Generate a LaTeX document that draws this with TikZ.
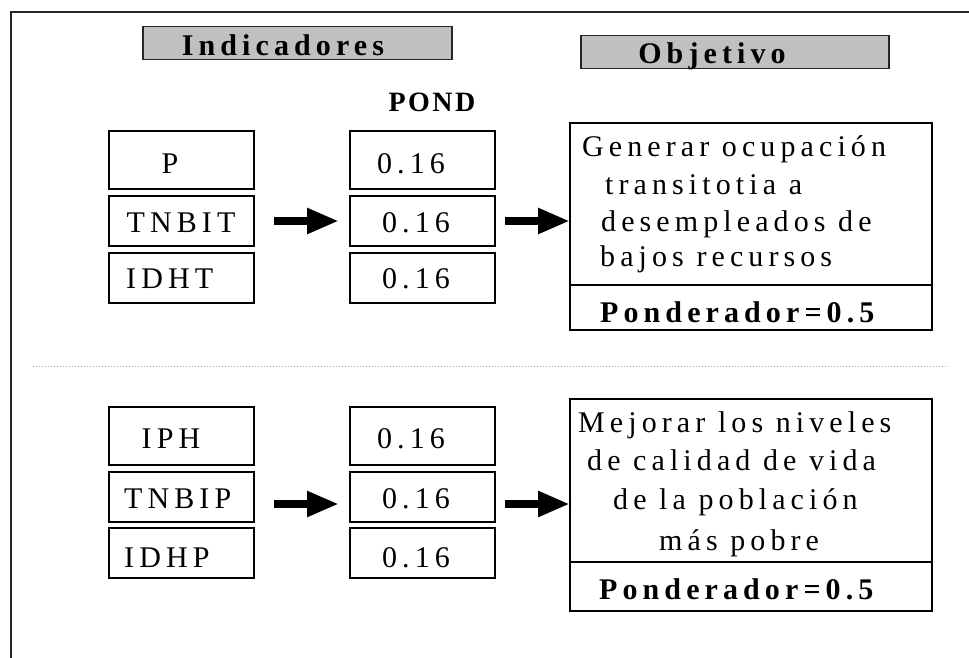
\documentclass[tikz,border=0pt]{standalone}
\usepackage{fontspec}
\setmainfont{Liberation Serif}
\newfontfamily\lsp[LetterSpace=17]{Liberation Serif}
\newfontfamily\lspn[LetterSpace=9]{Liberation Serif}
\usetikzlibrary{arrows.meta}
\definecolor{hdrgray}{HTML}{C0C0C0}
\begin{document}
\begin{tikzpicture}[x=1pt,y=-1pt,
  box/.style={draw=black, line width=1.3pt, inner sep=0pt, outer sep=0pt, minimum width=145pt},
  objbox/.style={draw=black, line width=1.3pt, inner sep=0pt, outer sep=0pt, minimum width=362pt},
  hdr/.style={draw=black!85, fill=hdrgray, line width=1.8pt, inner sep=0pt, minimum height=33pt},
  txt/.style={anchor=base, inner sep=0pt, font=\lsp\fontsize{30}{32}\selectfont},
  txtw/.style={txt, anchor=base west},
  bld/.style={font=\lsp\bfseries\fontsize{30}{32}\selectfont},
  hfont/.style={font=\lsp\bfseries\fontsize{30}{32}\selectfont},
  pfont/.style={font=\lspn\bfseries\fontsize{28}{30}\selectfont},
  fat/.style={line width=8pt, -{Triangle[length=32pt,width=24pt]}},
  divider/.style={line width=2.5pt},
]
\useasboundingbox (0,0) rectangle (969,658);
% frame
\draw[line width=2pt, black!85] (11,658) -- (11,12) -- (969,12);

% headers
\node[hdr, minimum width=309pt] (hind) at (297.5,43) {};
\node[txt, hfont] (tind) at (283,56) {Indicadores};
\node[hdr, minimum width=308pt] (hobj) at (735,52) {};
\node[txt, hfont] (tobj) at (712,64) {Objetivo};
\node[txt, pfont] (pond) at (432,112) {POND};

% top group, column 1
\node[box, minimum height=58pt] (a1) at (181.5,160) {};
\node[box, minimum height=50pt] (a2) at (181.5,221) {};
\node[box, minimum height=50pt] (a3) at (181.5,278) {};
\node[txt] (ta1) at (170,173) {P};
\node[txt] (ta2) at (181,232) {TNBIT};
\node[txtw] (ta3) at (126,288) {IDHT};
% top group, column 2
\node[box, minimum height=58pt] (b1) at (422.5,160) {};
\node[box, minimum height=50pt] (b2) at (422.5,221) {};
\node[box, minimum height=50pt] (b3) at (422.5,278) {};
\node[txt] (tb1) at (411,173) {0.16};
\node[txt] (tb2) at (416,232) {0.16};
\node[txt] (tb3) at (416,288) {0.16};
% top objective
\node[objbox, minimum height=207pt] (o1) at (751,226.5) {};
\coordinate (d1) at (0,285);
\draw[divider] (o1.west |- d1) -- (o1.east |- d1);
\node[txtw] (to1a) at (582,157) {Generar ocupación};
\node[txtw] (to1b) at (605,194) {transitotia a};
\node[txtw] (to1c) at (601,231) {desempleados de};
\node[txtw] (to1d) at (600,266) {bajos recursos};
\node[txtw, bld] (to1e) at (600,322) {Ponderador=0.5};
% top arrows
\draw[fat, shorten <=20pt, shorten >=11pt] (a2.east) -- (b2.west);
\draw[fat, shorten <=10pt] (b2.east) -- (o1.west |- b2.east);

% separator
\draw[black!35, dotted, line width=1pt] (33,366) -- (948,366);

% bottom group, column 1
\node[box, minimum height=58pt] (c1) at (181.5,436) {};
\node[box, minimum height=50pt] (c2) at (181.5,497) {};
\node[box, minimum height=50pt] (c3) at (181.5,553) {};
\node[txt] (tc1) at (171,448) {IPH};
\node[txtw] (tc2) at (124,508) {TNBIP};
\node[txtw] (tc3) at (124,567) {IDHP};
% bottom group, column 2
\node[box, minimum height=58pt] (e1) at (422.5,436) {};
\node[box, minimum height=50pt] (e2) at (422.5,497) {};
\node[box, minimum height=50pt] (e3) at (422.5,553) {};
\node[txt] (te1) at (411,448) {0.16};
\node[txt] (te2) at (416,508) {0.16};
\node[txt] (te3) at (416,567) {0.16};
% bottom objective
\node[objbox, minimum height=212pt] (o2) at (751,505) {};
\coordinate (d2) at (0,562);
\draw[divider] (o2.west |- d2) -- (o2.east |- d2);
\node[txtw] (to2a) at (578,432) {Mejorar los niveles};
\node[txtw] (to2b) at (587,470) {de calidad de vida};
\node[txtw] (to2c) at (613,509) {de la población};
\node[txtw] (to2d) at (659,550) {más pobre};
\node[txtw, bld] (to2e) at (599,599) {Ponderador=0.5};
% bottom arrows
\coordinate (ya) at (0,504);
\draw[fat, shorten <=20pt, shorten >=11pt] (c2.east |- ya) -- (e2.west |- ya);
\draw[fat, shorten <=10pt] (e2.east |- ya) -- (o2.west |- ya);
\end{tikzpicture}
\end{document}
